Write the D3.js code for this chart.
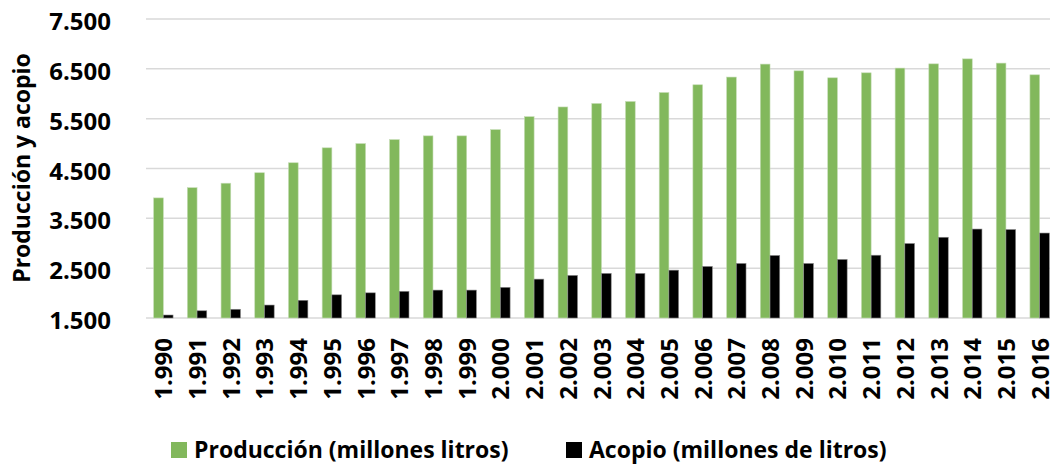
<!DOCTYPE html>
<html>
<head>
<meta charset="utf-8">
<script src="https://cdn.jsdelivr.net/npm/d3@7"></script>
<style>
  body { margin: 0; background: #fff; }
  text { font-family: "Open Sans", sans-serif; font-weight: bold; fill: #000; }
</style>
</head>
<body>
<div id="chart"></div>
<script>
// datos
var years = ['1.990','1.991','1.992','1.993','1.994','1.995','1.996','1.997','1.998','1.999',
             '2.000','2.001','2.002','2.003','2.004','2.005','2.006','2.007','2.008','2.009',
             '2.010','2.011','2.012','2.013','2.014','2.015','2.016']
var produccion = [3910,4115,4205,4415,4615,4915,5000,5080,5155,5155,
                  5280,5540,5735,5805,5845,6025,6180,6335,6595,6460,
                  6320,6420,6515,6600,6700,6615,6380]
var acopio = [1560,1645,1675,1760,1855,1965,2005,2035,2060,2060,
              2115,2280,2355,2395,2395,2460,2535,2595,2755,2595,
              2675,2760,2995,3120,3285,3275,3205]
var yTicks = [1500,2500,3500,4500,5500,6500,7500]
var series = ['Producción (millones litros)','Acopio (millones de litros)']
var colors = ['#82b85c','#000000']

var chart_width = 1050
var chart_height = 466

var svg = d3.select('#chart')
    .append('svg')
    .attr('width', chart_width)
    .attr('height', chart_height)

var x = d3.scaleBand()
    .domain(years)
    .range([146.5, 1056.5])
    .paddingInner(0.424)
    .paddingOuter(0.212)

var xs = d3.scaleBand()
    .domain([0, 1])
    .range([0, x.bandwidth()])

var y = d3.scaleLinear()
    .domain([1500, 7500])
    .range([318, 19])

var fmt = function(d){
    return d3.format(',')(d).replace(',', '.')
}

// lineas de cuadricula
svg.selectAll('line.grid')
    .data(yTicks)
    .enter()
    .append('line')
    .attr('class', 'grid')
    .attr('x1', 146)
    .attr('x2', chart_width)
    .attr('y1', function(d){ return y(d) })
    .attr('y2', function(d){ return y(d) })
    .attr('stroke', '#d9d9d9')
    .attr('stroke-width', 1.5)

// eje y
svg.selectAll('text.ytick')
    .data(yTicks)
    .enter()
    .append('text')
    .attr('class', 'ytick')
    .text(fmt)
    .attr('x', 111)
    .attr('y', function(d){ return y(d) + 11 })
    .attr('text-anchor', 'end')
    .attr('font-size', 24)

svg.append('text')
    .text('Producción y acopio')
    .attr('transform', 'translate(30,168) rotate(-90)')
    .attr('text-anchor', 'middle')
    .attr('font-size', 23)

// barras
var sets = [produccion, acopio]
sets.forEach(function(vals, s){
    svg.selectAll('rect.s' + s)
        .data(vals)
        .enter()
        .append('rect')
        .attr('class', 's' + s)
        .attr('x', function(d, i){ return x(years[i]) + xs(s) })
        .attr('y', function(d){ return y(d) })
        .attr('width', xs.bandwidth())
        .attr('height', function(d){ return y(1500) - y(d) })
        .attr('fill', colors[s])
        .attr('stroke', s == 0 ? '#c5dcb5' : '#888')
        .attr('stroke-width', 0.6)
})

// eje x
svg.selectAll('text.xtick')
    .data(years)
    .enter()
    .append('text')
    .attr('class', 'xtick')
    .text(function(d){ return d })
    .attr('transform', function(d){
        return 'translate(' + (x(d) + x.bandwidth() / 2 + 9) + ',338) rotate(-90)'
    })
    .attr('text-anchor', 'end')
    .attr('font-size', 24)

// leyenda
var legX = [171, 566]
series.forEach(function(name, s){
    svg.append('rect')
        .attr('x', legX[s])
        .attr('y', 442)
        .attr('width', 16)
        .attr('height', 16)
        .attr('fill', colors[s])
    svg.append('text')
        .text(name)
        .attr('x', legX[s] + 23)
        .attr('y', 458)
        .attr('font-size', 23)
})
</script>
</body>
</html>
